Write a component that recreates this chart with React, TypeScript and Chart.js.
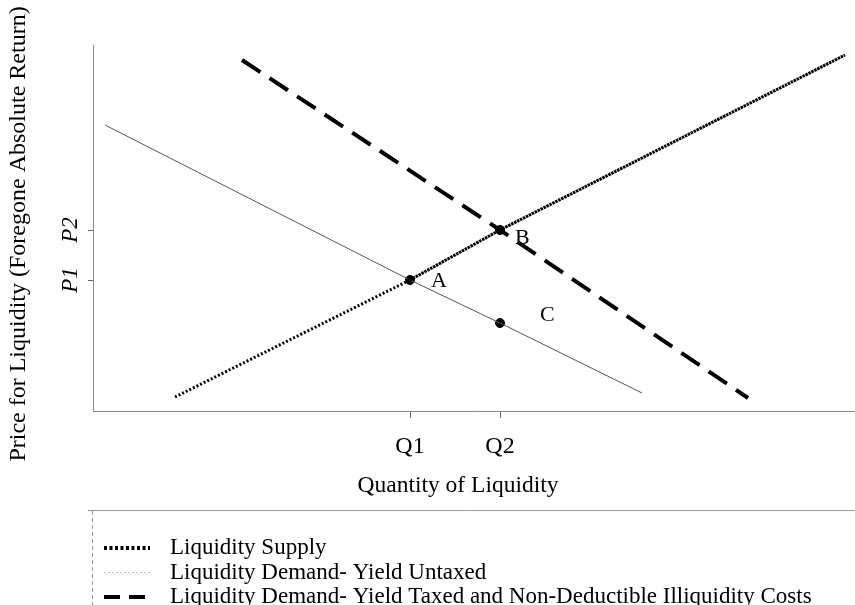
import React, { useEffect, useRef } from "react";
import { Chart, registerables } from "chart.js";

Chart.register(...registerables);

// ---- data ----
const seriesLabels = [
  "Liquidity Supply",
  "Liquidity Demand- Yield Untaxed",
  "Liquidity Demand- Yield Taxed and Non-Deductible Illiquidity Costs",
];
const supplyX = [8.2, 31.7, 40.7, 75.2];
const supplyY = [1.4, 13.1, 18.1, 35.6];
const untaxedX = [1.2, 31.7, 40.7, 54.9];
const untaxedY = [28.6, 13.1, 8.8, 1.8];
const taxedX = [14.9, 40.7, 65.5];
const taxedY = [35.1, 18.1, 1.3];
const pointLabels = ["A", "B", "C"];
const pointX = [31.7, 40.7, 40.7];
const pointY = [13.1, 18.1, 8.8];
const xTickValues = [31.7, 40.7];
const xTickLabels = ["Q1", "Q2"];
const yTickValues = [13.1, 18.1];
const yTickLabels = ["P1", "P2"];
const xTitle = "Quantity of Liquidity";
const yTitle = "Price for Liquidity (Foregone Absolute Return)";

const FONT = '"Liberation Serif", "DejaVu Serif", serif';

const zip = (xs: number[], ys: number[]) => xs.map((x, i) => ({ x, y: ys[i] }));

const annotPlugin = {
  id: "annot",
  afterDatasetsDraw(chart: any) {
    const ctx = chart.ctx as CanvasRenderingContext2D;
    const meta = chart.getDatasetMeta(3);
    ctx.save();
    ctx.font = `22px ${FONT}`;
    ctx.fillStyle = "#000";
    ctx.textBaseline = "middle";
    ctx.textAlign = "left";
    const offs = [
      [21, 1],
      [15, 8],
      [40, -8],
    ];
    meta.data.forEach((el: any, i: number) => {
      ctx.fillText(pointLabels[i], el.x + offs[i][0], el.y + offs[i][1]);
    });
    ctx.restore();
  },
  afterDraw(chart: any) {
    const ctx = chart.ctx as CanvasRenderingContext2D;
    ctx.save();
    // axis titles
    ctx.fillStyle = "#000";
    ctx.textBaseline = "middle";
    ctx.textAlign = "center";
    ctx.font = `23.5px ${FONT}`;
    ctx.fillText(xTitle, 458, 486);
    ctx.save();
    ctx.translate(19, 234);
    ctx.rotate(-Math.PI / 2);
    ctx.font = `24px ${FONT}`;
    ctx.fillText(yTitle, 0, 0);
    ctx.restore();

    // legend frame
    ctx.strokeStyle = "#999";
    ctx.lineWidth = 1;
    ctx.beginPath();
    ctx.moveTo(88, 510.5);
    ctx.lineTo(855, 510.5);
    ctx.stroke();
    ctx.setLineDash([4, 3]);
    ctx.beginPath();
    ctx.moveTo(92.5, 511);
    ctx.lineTo(92.5, 605);
    ctx.stroke();

    // legend items
    const legendDash = [[3, 2.5], [2, 2], [16, 9]];
    const legendWidth = [4, 1, 4];
    const legendColor = ["#000", "#bbb", "#000"];
    ctx.font = `23px ${FONT}`;
    ctx.textAlign = "left";
    for (let i = 0; i < 3; i++) {
      const y = 548 + i * 24.5;
      ctx.setLineDash(legendDash[i]);
      ctx.lineWidth = legendWidth[i];
      ctx.strokeStyle = legendColor[i];
      ctx.beginPath();
      ctx.moveTo(104, y);
      ctx.lineTo(150, y);
      ctx.stroke();
      ctx.fillStyle = "#000";
      ctx.fillText(chart.data.datasets[i].label, 170, y);
    }
    ctx.restore();
  },
};

export default function App() {
  const ref = useRef<HTMLCanvasElement | null>(null);
  useEffect(() => {
    if (!ref.current) return;
    const chart = new Chart(ref.current, {
      type: "scatter",
      data: {
        datasets: [
          {
            label: seriesLabels[0],
            data: zip(supplyX, supplyY),
            showLine: true,
            borderColor: "#000",
            borderWidth: 3,
            pointRadius: 0,
            segment: {
              borderDash: (c: any) => (c.p0DataIndex === 0 ? [2, 2] : [2.5, 0.8]),
            },
          },
          {
            label: seriesLabels[1],
            data: zip(untaxedX, untaxedY),
            showLine: true,
            borderColor: "#555",
            borderWidth: 1,
            pointRadius: 0,
          },
          {
            label: seriesLabels[2],
            data: zip(taxedX, taxedY),
            showLine: true,
            borderColor: "#000",
            borderWidth: 4,
            borderDash: [22, 11],
            pointRadius: 0,
          },
          {
            label: "points",
            data: zip(pointX, pointY),
            showLine: false,
            pointRadius: 4.5,
            pointBackgroundColor: "#000",
            pointBorderColor: "#000",
          },
        ],
      },
      options: {
        responsive: false,
        animation: false,
        layout: { autoPadding: false, padding: { top: 45, right: 0, left: 0, bottom: 0 } },
        plugins: {
          legend: { display: false },
          tooltip: { enabled: false },
        },
        scales: {
          x: {
            type: "linear",
            min: 0,
            max: 76.2,
            afterFit: (s: any) => {
              s.height = 194;
              s.paddingLeft = 0;
              s.paddingRight = 0;
            },
            afterBuildTicks: (s: any) => {
              s.ticks = xTickValues.map((v) => ({ value: v }));
            },
            ticks: {
              autoSkip: false,
              color: "#000",
              font: { family: FONT, size: 24 },
              padding: 14,
              callback: (_v: any, i: number) => xTickLabels[i],
            },
            grid: { drawOnChartArea: false, drawTicks: true, tickLength: 7, color: "#666" },
            border: { display: true, color: "#888", width: 1 },
          },
          y: {
            type: "linear",
            min: 0,
            max: 36.6,
            afterFit: (s: any) => {
              s.width = 93;
              s.paddingTop = 0;
              s.paddingBottom = 0;
            },
            afterBuildTicks: (s: any) => {
              s.ticks = yTickValues.map((v) => ({ value: v }));
            },
            ticks: {
              autoSkip: false,
              color: "#000",
              minRotation: 90,
              maxRotation: 90,
              crossAlign: "center",
              font: { family: FONT, size: 23, style: "italic" },
              padding: 4,
              callback: (_v: any, i: number) => yTickLabels[i],
            },
            grid: { drawOnChartArea: false, drawTicks: true, tickLength: 5, color: "#666" },
            border: { display: true, color: "#888", width: 1 },
          },
        },
      },
      plugins: [annotPlugin],
    } as any);
    return () => chart.destroy();
  }, []);
  return (
    <div style={{ position: "absolute", left: 0, top: 0, width: 855, height: 605, background: "#fff" }}>
      <canvas ref={ref} width={855} height={605} style={{ display: "block" }} />
    </div>
  );
}
